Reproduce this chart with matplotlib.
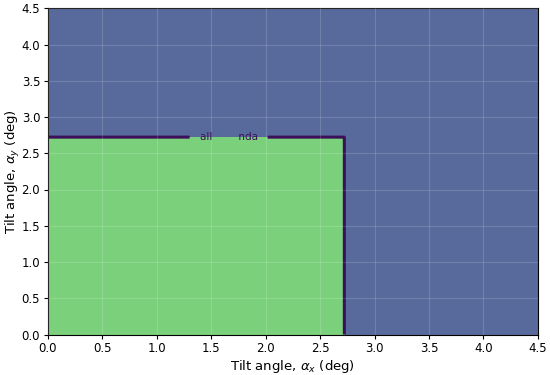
import numpy as np
import matplotlib
matplotlib.use('Agg')
import matplotlib.pyplot as plt
from matplotlib.colors import ListedColormap

# tilt limits (deg)
alpha_x_limit = 2.72
alpha_y_limit = 2.72
axis_max = 4.5
label_text = 'all        nda'

ax_vals = np.linspace(0, axis_max, 901)
ay_vals = np.linspace(0, axis_max, 901)
X, Y = np.meshgrid(ax_vals, ay_vals)
Z = ((X <= alpha_x_limit) & (Y <= alpha_y_limit)).astype(float)

fig = plt.figure(figsize=(5.5, 3.75), dpi=100)
ax = fig.add_axes([0.087, 0.108, 0.891, 0.870])

cmap = ListedColormap(['#586a9c', '#7bd17b'])
ax.contourf(X, Y, Z, levels=[-0.5, 0.5, 1.5], cmap=cmap)
cs = ax.contour(X, Y, Z, levels=[0.5], colors='#3b0f5a', linewidths=2.2)
ax.clabel(cs, fmt={0.5: label_text}, fontsize=7.5, inline=True,
          inline_spacing=10, manual=[(1.66, alpha_y_limit)])

ax.grid(True, color='white', alpha=0.15, linewidth=0.8)
ax.set_axisbelow(False)
ax.set_xlim(0, axis_max)
ax.set_ylim(0, axis_max)
ax.set_xticks(np.arange(0, 4.51, 0.5))
ax.set_yticks(np.arange(0, 4.51, 0.5))
ax.tick_params(labelsize=8.5, length=3, pad=2.5)
ax.set_xlabel(r'Tilt angle, $\alpha_x$ (deg)', fontsize=9.5, labelpad=2)
ax.set_ylabel(r'Tilt angle, $\alpha_y$ (deg)', fontsize=9.5, labelpad=0)

fig.savefig('out.png', dpi=100)
